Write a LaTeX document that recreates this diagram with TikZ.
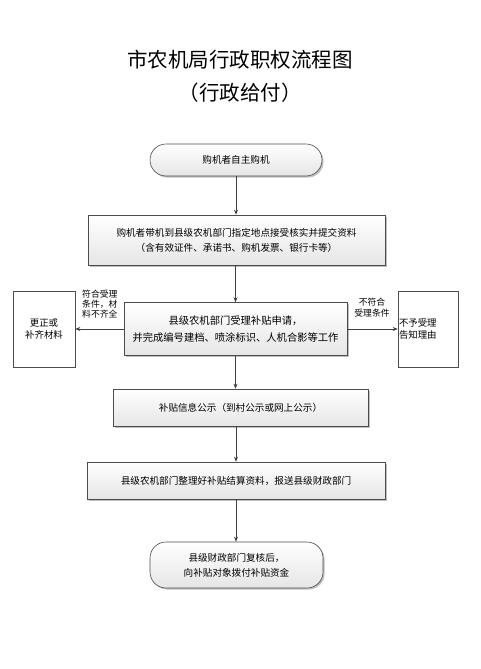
\documentclass[tikz,border=0pt]{standalone}
\usepackage{fontspec}
\setmainfont{Noto Sans CJK SC}
\usetikzlibrary{shadows,arrows.meta}
\begin{document}
\begin{tikzpicture}[x=1pt,y=-1pt,
  boxbase/.style={draw=black!70, line width=0.6pt, top color=white, bottom color=gray!20,
    drop shadow={shadow xshift=1.6pt, shadow yshift=-1.6pt, fill=gray!50, opacity=1},
    align=center, inner sep=0pt, font=\fontsize{9.6}{15}\selectfont},
  procbox/.style={boxbase},
  termbox/.style={boxbase, rounded corners=16pt},
  sidebox/.style={draw=black!70, line width=0.6pt, fill=white,
    drop shadow={shadow xshift=1.4pt, shadow yshift=-1.4pt, fill=gray!50, opacity=1},
    inner sep=0pt, font=\fontsize{9.4}{12.5}\selectfont},
  lbl/.style={font=\fontsize{8.8}{10}\selectfont, inner sep=0pt},
  conn/.style={draw=black!75, line width=0.6pt, -{Stealth[length=5pt,width=4pt]}}
]
\useasboundingbox (0,0) rectangle (480,669);
\node (t1) at (240,60) {\fontsize{20.5}{24}\selectfont 市农机局行政职权流程图};
\node (t2) at (240,93) {\fontsize{20.5}{24}\selectfont （行政给付）};

\node[termbox, minimum width=172pt, minimum height=32pt] (n1) at (236,160) {购机者自主购机};
\node[procbox, minimum width=297pt, minimum height=50pt] (n2) at (236.5,240)
  {购机者带机到县级农机部门指定地点接受核实并提交资料\\（含有效证件、承诺书、购机发票、银行卡等）};
\node[procbox, minimum width=223pt, minimum height=53pt, font=\fontsize{10.3}{17}\selectfont] (n3) at (235.5,329)
  {县级农机部门受理补贴申请，\\并完成编号建档、喷涂标识、人机合影等工作};
\node[procbox, minimum width=255pt, minimum height=37pt] (n4) at (240.5,407.5)
  {补贴信息公示（到村公示或网上公示）};
\node[procbox, minimum width=298pt, minimum height=37pt] (n5) at (236,480.5)
  {县级农机部门整理好补贴结算资料，报送县级财政部门};
\node[termbox, minimum width=173pt, minimum height=46pt, font=\fontsize{9.6}{15}\selectfont] (n6) at (236.5,565)
  {县级财政部门复核后，\\向补贴对象拨付补贴资金};

\node[sidebox, minimum width=62pt, minimum height=76pt, align=center] (L) at (44,329) {更正或\\补齐材料};
\node[sidebox, minimum width=60pt, minimum height=76pt, align=left, text width=58pt] (R) at (428,329) {不予受理\\告知理由};

\node[lbl, align=left, anchor=north west, font=\fontsize{8.8}{10}\selectfont] (la) at (82,290) {符合受理\\条件，材\\料不齐全};
\node[lbl, align=center, font=\fontsize{8.8}{11}\selectfont] (lb) at (372,308) {不符合\\受理条件};

\draw[conn] (n1.south) -- (n2.north -| n1.south);
\draw[conn] (n2.south -| n3.north) -- (n3.north);
\draw[conn] (n3.south) -- (n3.south |- n4.north);
\draw[conn] (n4.south -| n5.north) -- (n5.north);
\draw[conn] (n5.south) -- (n6.north -| n5.south);
\draw[conn] (n3.west) -- (L.east |- n3.west);
\draw[conn] (n3.east) -- (R.west |- n3.east);
\end{tikzpicture}
\end{document}
